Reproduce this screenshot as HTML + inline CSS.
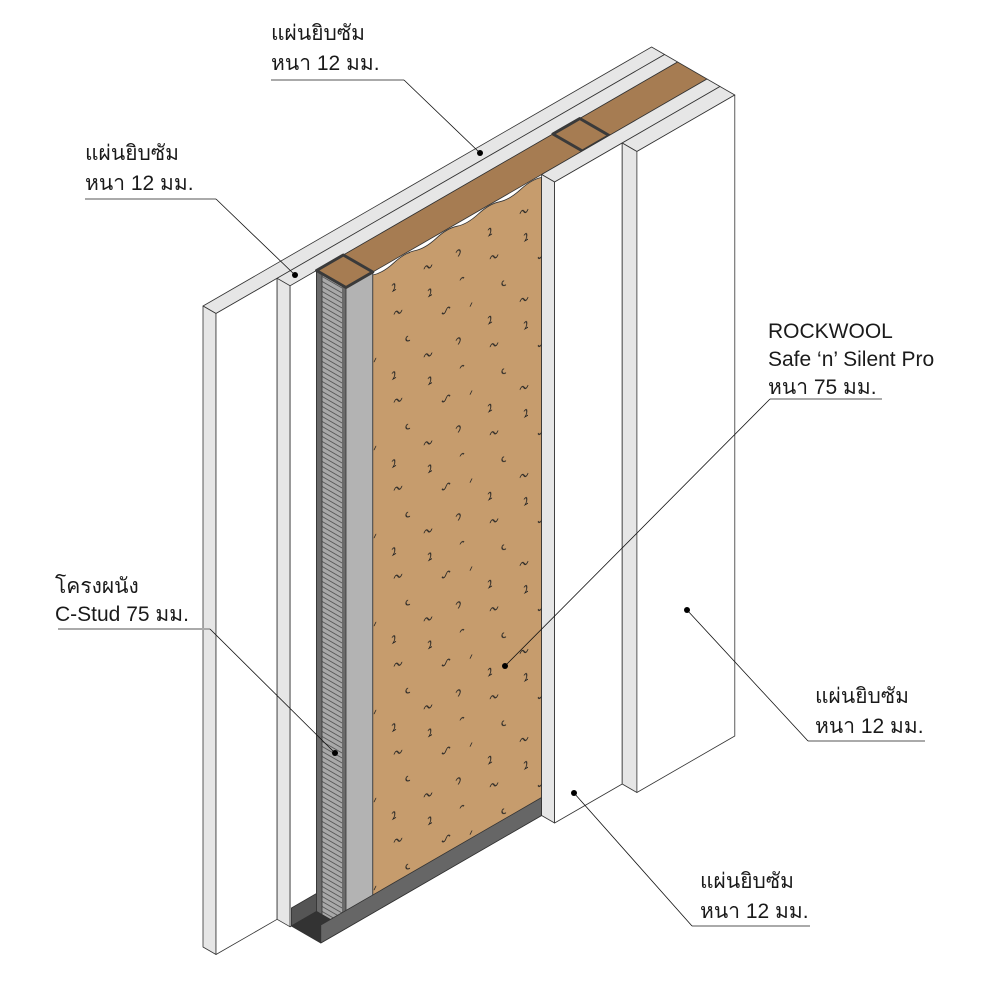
<!DOCTYPE html>
<html><head><meta charset="utf-8"><style>
html,body{margin:0;padding:0;background:#fff;}
svg{display:block;}
text{font-family:"Liberation Sans","Noto Sans CJK SC","WenQuanYi Zen Hei",sans-serif;font-size:21px;fill:#1a1a1a;}
</style></head><body>
<svg width="1000" height="1000" viewBox="0 0 1000 1000" xmlns="http://www.w3.org/2000/svg">
<defs>
<pattern id="hatch" width="10" height="5" patternUnits="userSpaceOnUse" patternTransform="skewY(30)">
<rect width="10" height="5" fill="#a8a8a8"/>
<line x1="0" y1="0.5" x2="10" y2="0.5" stroke="#333" stroke-width="0.7"/>
</pattern>
<pattern id="wool" width="96" height="88" patternUnits="userSpaceOnUse" patternTransform="skewY(-30)">
<rect width="96" height="88" fill="#c69c6d"/>
<g fill="none" stroke="#222" stroke-width="1">
<path d="M10 14 q2 -4 4 0 t4 0"/>
<path d="M44 10 c3 -3 4 3 1 6 l3 0"/>
<path d="M76 18 q2 -3 4 0"/>
<path d="M24 44 c-3 -2 -3 5 2 5"/>
<path d="M58 40 q2 4 4 0 t4 0"/>
<path d="M86 50 l2 -3"/>
<path d="M8 72 c3 -3 4 3 1 6 l3 0"/>
<path d="M40 74 q2 -4 4 0 t4 0"/>
<path d="M72 76 q2 -3 4 0 q1 3 -2 5"/>
</g>
</pattern>
</defs>
<g stroke="#333" stroke-width="0.8" stroke-linejoin="round">
<!-- board1 -->
<polygon points="203,306 651.6,47 664.6,54.5 216,313.5" fill="#e6e6e6"/>
<polygon points="203,306 216,313.5 216,954.5 203,947" fill="#e6e6e6"/>
<polygon points="216,313.5 277.1,278.3 277.1,919.3 216,954.5" fill="#fff"/>
<!-- board2 -->
<polygon points="277.1,278.3 664.6,54.5 677.6,62 290.1,285.8" fill="#e6e6e6"/>
<polygon points="277.1,278.3 290.1,285.8 290.1,926.8 277.1,919.3" fill="#e6e6e6"/>
<polygon points="290.1,285.8 316.5,270.5 316.5,911.5 290.1,926.8" fill="#fff"/>
<!-- core top -->
<polygon points="316.5,270.5 677.6,62 707,79 346,287.5" fill="#a67c52"/>
<!-- track end inner -->
<polygon points="291.4,908 316.5,893.5 316.5,911.5 291.4,926" fill="#555"/>
<!-- stud flange -->
<polygon points="316.5,270.5 346,287.5 346,928.5 316.5,911.5" fill="url(#hatch)"/>
<polygon points="316.5,270.5 322,273.7 322,914.7 316.5,911.5" fill="#6a6a6a"/>
<polygon points="342,285.2 346,287.5 346,928.5 342,926.2" fill="#6a6a6a" stroke="none"/>
<!-- stud web -->
<polygon points="346,287.5 372.8,272 372.8,913 346,928.5" fill="#b3b3b3"/>
<!-- rockwool face -->
<path d="M372.8,275 q10,-2 21.1,-12.2 t21.1,-12.2 t21.1,-12.2 t21.1,-12.2 t21.1,-12.2 t21.1,-12.2 t21.1,-12.2 t21.1,-12.2 L541.6,815.5 L372.8,913 Z" fill="url(#wool)"/>
<!-- track -->
<polygon points="291.4,926 316.5,911.5 346,928.5 320.8,943" fill="#333"/>
<polygon points="320.8,925 541.6,797.5 541.6,815.5 320.8,943" fill="#666"/>
<!-- stud caps -->
<polygon points="316.5,270.5 343.3,255 372.8,272 346,287.5" fill="none" stroke="#3a3a3a" stroke-width="3"/>
<polygon points="552.9,134 579.8,118.5 609.2,135.5 582.4,151" fill="none" stroke="#3a3a3a" stroke-width="3"/>
<!-- board3 -->
<polygon points="541.6,174.5 707,79 720,86.5 554.6,182" fill="#e6e6e6"/>
<polygon points="541.6,174.5 554.6,182 554.6,823 541.6,815.5" fill="#e6e6e6"/>
<polygon points="554.6,182 622.2,143 622.2,784 554.6,823" fill="#fff"/>
<!-- board4 -->
<polygon points="622.2,143 720,86.5 734.8,95 636.9,151.5" fill="#e6e6e6"/>
<polygon points="622.2,143 636.9,151.5 636.9,792.5 622.2,784" fill="#e6e6e6"/>
<polygon points="636.9,151.5 734.8,95 734.8,736 636.9,792.5" fill="#fff"/>
</g>
<!-- labels -->
<g stroke="#aaa" stroke-width="2">
<line x1="271" y1="80" x2="404" y2="80"/>
<line x1="85" y1="199" x2="216" y2="199"/>
<line x1="770" y1="399" x2="882" y2="399"/>
<line x1="58" y1="629" x2="210" y2="629"/>
<line x1="808" y1="741" x2="925" y2="741"/>
<line x1="692" y1="926" x2="810" y2="926"/>
</g>
<g stroke="#111" stroke-width="0.8">
<line x1="404" y1="80" x2="480" y2="153"/>
<line x1="216" y1="199" x2="295" y2="275"/>
<line x1="770" y1="399" x2="505" y2="666"/>
<line x1="210" y1="629" x2="335" y2="753"/>
<line x1="808" y1="741" x2="687" y2="610"/>
<line x1="692" y1="926" x2="574" y2="793"/>
</g>
<g fill="#000">
<circle cx="480" cy="153" r="3"/><circle cx="295" cy="275" r="3"/>
<circle cx="505" cy="666" r="3"/><circle cx="335" cy="753" r="3"/>
<circle cx="687" cy="610" r="3"/><circle cx="574" cy="793" r="3"/>
</g>
<text x="271" y="40">แผ่นยิบซัม</text><text x="271" y="70">หนา 12 มม.</text>
<text x="85" y="160">แผ่นยิบซัม</text><text x="85" y="190">หนา 12 มม.</text>
<text x="768" y="338">ROCKWOOL</text><text x="768" y="366">Safe ‘n’ Silent Pro</text><text x="768" y="394">หนา 75 มม.</text>
<text x="55" y="593">โครงผนัง</text><text x="55" y="621">C-Stud 75 มม.</text>
<text x="815" y="703">แผ่นยิบซัม</text><text x="815" y="733">หนา 12 มม.</text>
<text x="700" y="888">แผ่นยิบซัม</text><text x="700" y="918">หนา 12 มม.</text>
</svg>
</body></html>
